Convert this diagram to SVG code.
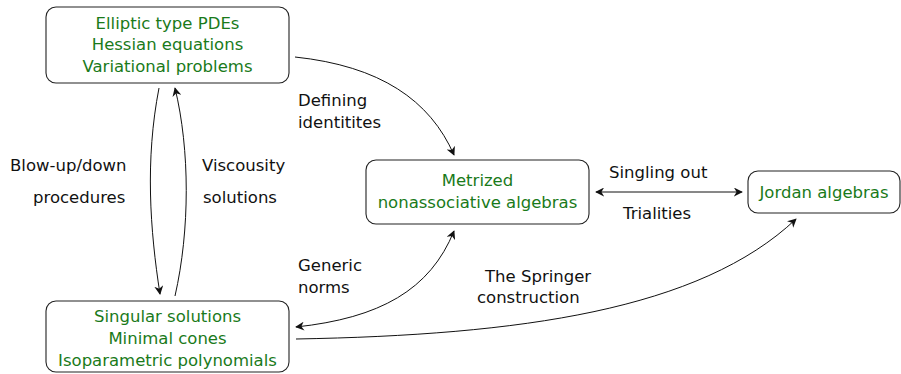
<svg xmlns="http://www.w3.org/2000/svg" width="901" height="374" viewBox="0 0 901 374">
<style>
.box{fill:#fff;stroke:#222;stroke-width:1.1}
.g{fill:#1a7a1a;font-family:"DejaVu Sans",sans-serif;font-size:16.5px;text-anchor:middle}
.l{fill:#111;font-family:"DejaVu Sans",sans-serif;font-size:16.5px}
.c{fill:none;stroke:#111;stroke-width:1}
</style>
<defs>
<marker id="ah" viewBox="0 0 10 10" refX="9" refY="5" markerWidth="9" markerHeight="9" markerUnits="userSpaceOnUse" orient="auto-start-reverse">
<path d="M0,0 L10,5 L0,10 L3,5 Z" fill="#111"/>
</marker>
</defs>
<g id="n1">
<rect class="box" x="46" y="7" width="243" height="76" rx="10"/>
<text class="g" x="167.5" y="29">Elliptic type PDEs</text>
<text class="g" x="167.5" y="50">Hessian equations</text>
<text class="g" x="167.5" y="72">Variational problems</text>
</g>
<g id="n2">
<rect class="box" x="46" y="301" width="243" height="71" rx="10"/>
<text class="g" x="167.5" y="322">Singular solutions</text>
<text class="g" x="167.5" y="344">Minimal cones</text>
<text class="g" x="167.5" y="366">Isoparametric polynomials</text>
</g>
<g id="n3">
<rect class="box" x="366" y="160" width="223" height="64" rx="10"/>
<text class="g" x="477.5" y="186">Metrized</text>
<text class="g" x="477.5" y="208">nonassociative algebras</text>
</g>
<g id="n4">
<rect class="box" x="748" y="171" width="152" height="42" rx="10"/>
<text class="g" x="824" y="198">Jordan algebras</text>
</g>
<g id="edges">
<path class="c" d="M295,57 C380,66 430,100 454,155" marker-end="url(#ah)"/>
<path class="c" d="M159,88 C145,160 150,230 160,294" marker-end="url(#ah)"/>
<path class="c" d="M175,296 C190,230 190,150 175,88" marker-end="url(#ah)"/>
<path class="c" d="M296,327 C380,318 430,290 454,231" marker-start="url(#ah)" marker-end="url(#ah)"/>
<path class="c" d="M296,339 C520,335 700,310 796,219" marker-end="url(#ah)"/>
<path class="c" d="M596,192 L742,192" marker-start="url(#ah)" marker-end="url(#ah)"/>
</g>
<g id="labels">
<text class="l" x="298" y="106">Defining</text>
<text class="l" x="298" y="128">identitites</text>
<text class="l" x="10" y="171">Blow-up/down</text>
<text class="l" x="33" y="203">procedures</text>
<text class="l" x="202" y="171">Viscousity</text>
<text class="l" x="203" y="203">solutions</text>
<text class="l" x="298" y="271">Generic</text>
<text class="l" x="298" y="293">norms</text>
<text class="l" x="485" y="282">The Springer</text>
<text class="l" x="477" y="303">construction</text>
<text class="l" x="609" y="178">Singling out</text>
<text class="l" x="623" y="219">Trialities</text>
</g>
</svg>
